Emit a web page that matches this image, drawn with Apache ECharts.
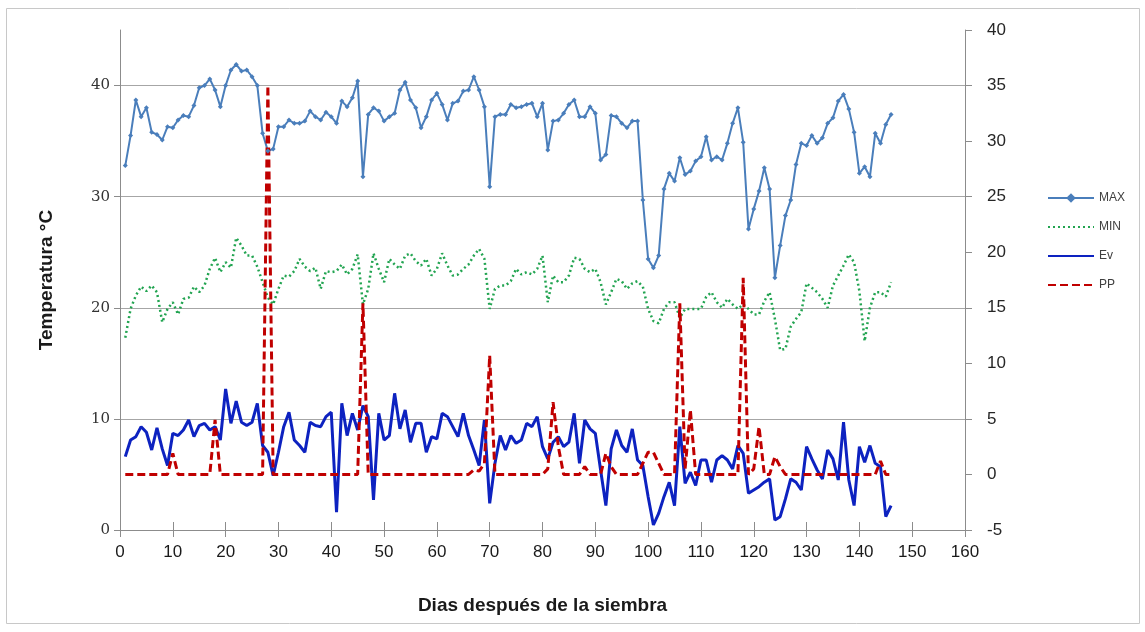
<!DOCTYPE html>
<html>
<head>
<meta charset="utf-8">
<script src="https://cdn.jsdelivr.net/npm/echarts@6/dist/echarts.min.js"></script>
<style>
html,body{margin:0;padding:0;background:#fff;}
#chart{width:1145px;height:632px;}
</style>
</head>
<body>
<div id="chart"></div>
<script>
// Days after sowing: 1..146
const maxTemp = [
32.8,35.5,38.7,37.2,38.0,35.8,35.6,35.1,36.3,36.2,
36.9,37.3,37.2,38.2,39.8,40.0,40.6,39.6,38.1,40.0,
41.4,41.9,41.3,41.4,40.8,40.0,35.7,34.1,34.3,36.3,
36.3,36.9,36.6,36.6,36.8,37.7,37.2,36.9,37.6,37.2,
36.6,38.6,38.1,38.9,40.4,31.8,37.4,38.0,37.7,36.8,
37.2,37.5,39.6,40.3,38.7,38.0,36.2,37.2,38.7,39.3,
38.3,36.9,38.4,38.6,39.5,39.6,40.8,39.6,38.1,30.9,
37.2,37.4,37.4,38.3,38.0,38.1,38.3,38.4,37.2,38.4,
34.2,36.8,36.9,37.5,38.3,38.7,37.2,37.2,38.1,37.5,
33.3,33.8,37.3,37.2,36.6,36.2,36.8,36.8,29.7,24.4,
23.6,24.7,30.7,32.1,31.4,33.5,32.0,32.3,33.2,33.6,
35.4,33.3,33.6,33.3,34.8,36.6,38.0,34.9,27.1,28.9,
30.5,32.6,30.7,22.7,25.6,28.3,29.7,32.9,34.8,34.6,
35.5,34.8,35.3,36.6,37.1,38.6,39.2,37.9,35.8,32.1,
32.7,31.8,35.7,34.8,36.5,37.4
];
const minTemp = [
17.3,19.9,21.1,21.9,21.5,22.0,21.4,18.7,19.9,20.5,
19.4,20.8,20.9,21.9,21.4,22.0,23.5,24.5,23.2,24.1,
23.6,26.3,25.6,24.7,24.7,23.7,22.3,20.9,20.3,21.7,
22.9,22.8,23.3,24.4,23.7,23.3,23.6,21.7,23.3,23.2,
23.3,23.9,23.0,23.5,24.8,20.3,21.7,24.9,23.5,22.3,
24.4,23.9,23.5,24.7,24.9,24.2,23.8,24.4,22.9,23.5,
24.9,23.8,22.9,23.0,23.5,23.9,24.7,25.3,24.4,19.9,
21.7,22.0,22.0,22.4,23.5,23.0,23.2,23.0,23.5,24.7,
20.5,22.9,22.3,22.3,22.9,24.5,24.4,23.5,23.2,23.5,
22.3,20.3,21.4,22.6,22.4,21.7,22.2,22.4,21.9,19.9,
18.8,18.6,19.9,20.5,20.5,19.1,19.9,19.9,19.9,19.9,
21.0,21.4,20.5,20.0,20.8,20.3,19.9,20.3,19.9,19.4,
19.4,20.6,21.4,19.0,16.2,16.3,18.3,19.0,19.6,22.2,
21.8,21.4,20.8,20.0,22.0,22.9,23.8,24.8,24.1,21.5,
17.0,20.0,21.4,21.4,21.0,22.3
];
const evap = [
6.6,8.1,8.4,9.3,8.8,7.2,9.2,7.3,5.8,8.7,
8.5,9.0,9.9,8.4,9.4,9.6,9.0,9.3,8.1,12.7,
9.6,11.6,9.7,9.4,9.7,11.4,7.6,7.0,4.9,7.0,
9.3,10.6,8.1,7.6,7.0,9.7,9.4,9.3,10.2,10.6,
1.6,11.4,8.5,10.5,9.0,11.2,10.2,2.7,10.5,8.1,
8.5,12.3,9.1,10.8,7.9,9.6,9.6,7.0,8.4,8.2,
10.5,10.2,9.3,8.4,10.5,8.5,7.2,5.8,9.9,2.4,
6.0,8.5,7.2,8.5,7.8,8.1,9.6,9.3,10.2,7.5,
6.4,7.9,8.4,7.5,7.9,10.5,6.0,9.9,9.1,8.7,
5.4,2.2,7.3,9.0,7.6,7.0,9.1,6.3,5.8,3.0,
0.45,1.5,3.0,4.3,2.2,9.3,4.2,5.2,4.0,6.3,
6.3,4.3,6.3,6.7,6.3,5.5,7.6,6.9,3.3,3.6,
3.9,4.3,4.6,0.9,1.2,2.8,4.6,4.3,3.6,7.5,
6.4,5.4,4.6,7.2,6.4,4.5,9.7,4.5,2.2,7.5,
6.1,7.6,6.0,5.7,1.2,2.2
];
const precip = [
0,0,0,0,0,0,0,0,0,1.9,
0,0,0,0,0,0,0,4.9,0,0,
0,0,0,0,0,0,0,35,0,0,
0,0,0,0,0,0,0,0,0,0,
0,0,0,0,0,15.4,0,0,0,0,
0,0,0,0,0,0,0,0,0,0,
0,0,0,0,0,0,0.4,0.3,1.0,10.7,
0,0,0,0,0,0,0,0,0,0,
0.5,6.5,2.5,0,0,0,0,0.7,0,0,
0,1.9,0.7,0,0,0,0,0,1.0,2.0,
2.0,1.0,0,0,0,15.4,0.5,5.8,0,0,
0,0,0,0,0,0,0,17.7,0,0.5,
4.3,0,0,1.6,0.7,0,0,0,0,0,
0,0,0,0,0,0,0,0,0,0,
0,0,0,1.2,0,0
];
const seriesNames = ['MAX','MIN','Ev','PP'];
const xTitle = 'Dias después de la siembra';
const yTitle = 'Temperatura °C';

const pairs = arr => arr.map((v, i) => [i + 1, v]);

const chart = echarts.init(document.getElementById('chart'));
const axisGray = '#8c8c8c';
chart.setOption({
  animation: false,
  backgroundColor: '#ffffff',
  graphic: [{
    type: 'rect', silent: true, z: -1,
    shape: { x: 6.5, y: 8.5, width: 1133, height: 615 },
    style: { fill: 'none', stroke: '#c8c8c8', lineWidth: 1 }
  }],
  grid: { left: 120, right: 180, top: 30, bottom: 102, containLabel: false },
  legend: {
    orient: 'vertical', left: 1042, top: 187,
    itemWidth: 46, itemHeight: 12, itemGap: 17,
    textStyle: { fontFamily: 'Liberation Sans', fontSize: 12, color: '#404040' },
    data: [
      { name: seriesNames[0] },
      { name: seriesNames[1], itemStyle: { opacity: 0 } },
      { name: seriesNames[2], itemStyle: { opacity: 0 } },
      { name: seriesNames[3], itemStyle: { opacity: 0 } }
    ]
  },
  xAxis: [{
    type: 'value', min: 0, max: 160, interval: 10,
    name: xTitle, nameLocation: 'middle', nameGap: 66,
    nameTextStyle: { fontFamily: 'Liberation Sans', fontWeight: 'bold', fontSize: 19, color: '#1a1a1a' },
    axisLine: { show: true, onZero: false, lineStyle: { color: axisGray, width: 1 } },
    axisTick: { show: true, length: 7, lineStyle: { color: axisGray } },
    axisLabel: { fontFamily: 'Liberation Sans', fontSize: 17, color: '#1a1a1a', margin: 14 },
    splitLine: { show: false }
  }, {
    type: 'value', min: 0, max: 160, interval: 10, position: 'bottom',
    axisLine: { show: false, onZero: false },
    axisTick: { show: true, inside: true, length: 8, lineStyle: { color: axisGray } },
    axisLabel: { show: false }, splitLine: { show: false }
  }],
  yAxis: [{
    type: 'value', min: 0, max: 45, interval: 10, position: 'left',
    name: yTitle, nameLocation: 'middle', nameGap: 64, nameRotate: 90,
    nameTextStyle: { fontFamily: 'Liberation Sans', fontWeight: 'bold', fontSize: 19, color: '#1a1a1a' },
    axisLine: { show: true, onZero: false, lineStyle: { color: axisGray, width: 1 } },
    axisTick: { show: true, length: 6, lineStyle: { color: axisGray } },
    axisLabel: { fontFamily: 'DejaVu Serif', fontSize: 15, color: '#333333', margin: 10, showMaxLabel: false },
    splitLine: { show: true, showMaxLine: false, lineStyle: { color: '#a6a6a6', width: 1.2 } }
  }, {
    type: 'value', min: -5, max: 40, interval: 5, position: 'right',
    axisLine: { show: true, onZero: false, lineStyle: { color: axisGray, width: 1 } },
    axisTick: { show: true, length: 7, lineStyle: { color: axisGray } },
    axisLabel: { fontFamily: 'Liberation Sans', fontSize: 17, color: '#262626', margin: 22 },
    splitLine: { show: false }
  }],
  series: [{
    name: seriesNames[0], type: 'line', xAxisIndex: 0, yAxisIndex: 0,
    data: pairs(maxTemp),
    symbol: 'diamond', symbolSize: 5, showSymbol: true,
    itemStyle: { color: '#4a7ebb' },
    lineStyle: { color: '#4a7ebb', width: 2 }
  }, {
    name: seriesNames[1], type: 'line', xAxisIndex: 0, yAxisIndex: 0,
    data: pairs(minTemp), symbol: 'none',
    itemStyle: { color: '#22a451' },
    lineStyle: { color: '#22a451', width: 2.5, type: [2, 3] }
  }, {
    name: seriesNames[2], type: 'line', xAxisIndex: 0, yAxisIndex: 0,
    data: pairs(evap), symbol: 'none',
    itemStyle: { color: '#0d22c0' },
    lineStyle: { color: '#0d22c0', width: 3 }
  }, {
    name: seriesNames[3], type: 'line', xAxisIndex: 0, yAxisIndex: 1,
    data: pairs(precip), symbol: 'none',
    itemStyle: { color: '#c00000' },
    lineStyle: { color: '#c00000', width: 3, type: [8, 4] }
  }]
});
</script>
</body>
</html>
